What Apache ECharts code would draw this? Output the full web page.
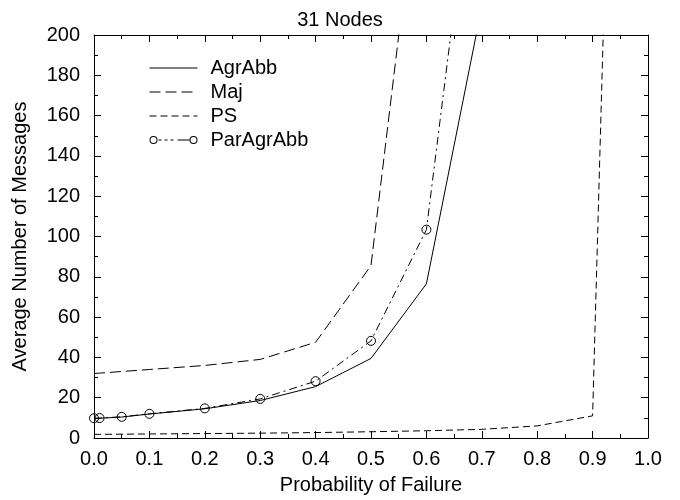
<!DOCTYPE html>
<html>
<head>
<meta charset="utf-8">
<script src="https://cdn.jsdelivr.net/npm/echarts@6/dist/echarts.min.js"></script>
<style>
  html, body { margin: 0; padding: 0; background: #fff; }
  #chart { width: 680px; height: 500px; }
</style>
</head>
<body>
<div id="chart"></div>
<script>
// values
const agrX = [0, 0.01, 0.05, 0.1, 0.2, 0.3, 0.4, 0.5, 0.6, 0.7];
const agrY = [9.7, 9.8, 10.4, 11.9, 14.5, 18.6, 25.5, 39.5, 76.5, 214];

const majX = [0, 0.01, 0.05, 0.1, 0.2, 0.3, 0.4, 0.5, 0.6];
const majY = [32, 32.2, 33, 34, 36, 39, 47.5, 85.6, 314];

const psX = [0, 0.01, 0.05, 0.1, 0.2, 0.3, 0.4, 0.5, 0.6, 0.7, 0.8, 0.9, 1.0];
const psY = [1.8, 1.8, 1.9, 2, 2.2, 2.4, 2.7, 3.1, 3.6, 4.3, 6, 11, 1000];

const parX = [0, 0.01, 0.05, 0.1, 0.2, 0.3, 0.4, 0.5, 0.6, 0.7];
const parY = [9.8, 9.9, 10.5, 12, 14.7, 19.4, 28.2, 48.2, 103.4, 323];

const FONT = '"Liberation Sans", Arial, sans-serif';

function pairs(xs, ys) {
  return xs.map((x, i) => [x, ys[i]]);
}

// legend glyph for ParAgrAbb: circle, short dashes, line, circle
const parIcon = 'path://M0,5A4,4 0 1 1 8,5A4,4 0 1 1 0,5Z M1,5A3,3 0 1 0 7,5A3,3 0 1 0 1,5Z' +
  'M9,4.5H12V5.5H9Z M15,4.5H18V5.5H15Z M21,4.5H24V5.5H21Z M28,4.5H40V5.5H28Z' +
  'M40,5A4,4 0 1 1 48,5A4,4 0 1 1 40,5Z M41,5A3,3 0 1 0 47,5A3,3 0 1 0 41,5Z';

const axisCommon = {
  type: 'value',
  axisLine: { show: true, onZero: false, lineStyle: { color: '#000', width: 1 } },
  axisTick: { show: true, inside: true, length: 7, lineStyle: { color: '#000' } },
  minorTick: { show: true, splitNumber: 2, length: 4, lineStyle: { color: '#000' } },
  splitLine: { show: false },
  minorSplitLine: { show: false },
};

const chart = echarts.init(document.getElementById('chart'));
chart.setOption({
  animation: false,
  backgroundColor: '#fff',
  textStyle: { fontFamily: FONT, color: '#000' },
  title: {
    text: '31 Nodes',
    left: 'center',
    top: 5,
    textStyle: { fontFamily: FONT, fontSize: 20, fontWeight: 'normal', color: '#000' },
  },
  grid: { left: 94, right: 32, top: 35, bottom: 60 },
  legend: {
    orient: 'vertical',
    left: 144,
    top: 53,
    itemWidth: 48,
    itemHeight: 10,
    itemGap: 4,
    lineStyle: { width: 1 },
    textStyle: { fontFamily: FONT, fontSize: 20, color: '#000', padding: [0, 0, 0, 8] },
    data: [
      { name: 'AgrAbb', itemStyle: { opacity: 0 } },
      { name: 'Maj', itemStyle: { opacity: 0 } },
      { name: 'PS', itemStyle: { opacity: 0 } },
      { name: 'ParAgrAbb', icon: parIcon, itemStyle: { color: '#000', borderWidth: 0, opacity: 1 } },
    ],
  },
  xAxis: [
    Object.assign({}, axisCommon, {
      min: 0, max: 1, interval: 0.1,
      name: 'Probability of Failure',
      nameLocation: 'middle',
      nameGap: 37,
      nameTextStyle: { fontFamily: FONT, fontSize: 20, color: '#000' },
      axisLabel: { margin: 11, fontFamily: FONT, fontSize: 20, color: '#000', formatter: v => v.toFixed(1) },
    }),
    Object.assign({}, axisCommon, {
      position: 'top', min: 0, max: 1, interval: 0.1,
      axisLabel: { show: false },
    }),
  ],
  yAxis: [
    Object.assign({}, axisCommon, {
      min: 0, max: 200, interval: 20,
      name: 'Average Number of Messages',
      nameLocation: 'middle',
      nameGap: 64,
      nameTextStyle: { fontFamily: FONT, fontSize: 20, color: '#000' },
      axisLabel: { margin: 14, fontFamily: FONT, fontSize: 20, color: '#000' },
    }),
    Object.assign({}, axisCommon, {
      position: 'right', min: 0, max: 200, interval: 20,
      axisLabel: { show: false },
    }),
  ],
  series: [
    {
      name: 'AgrAbb', type: 'line', symbol: 'none', clip: true,
      data: pairs(agrX, agrY),
      lineStyle: { color: '#000', width: 1, type: 'solid' },
      itemStyle: { color: '#000' },
    },
    {
      name: 'Maj', type: 'line', symbol: 'none', clip: true,
      data: pairs(majX, majY),
      lineStyle: { color: '#000', width: 1, type: [11, 5] },
      itemStyle: { color: '#000' },
    },
    {
      name: 'PS', type: 'line', symbol: 'none', clip: true,
      data: pairs(psX, psY),
      lineStyle: { color: '#000', width: 1, type: [7, 4] },
      itemStyle: { color: '#000' },
    },
    {
      name: 'ParAgrAbb', type: 'line', symbol: 'circle', symbolSize: 9, clip: true,
      data: pairs(parX, parY),
      lineStyle: { color: '#000', width: 1, type: [8, 4, 2, 4] },
      itemStyle: { color: 'rgba(0,0,0,0)', borderColor: '#000', borderWidth: 1 },
    },
  ],
});
</script>
</body>
</html>
